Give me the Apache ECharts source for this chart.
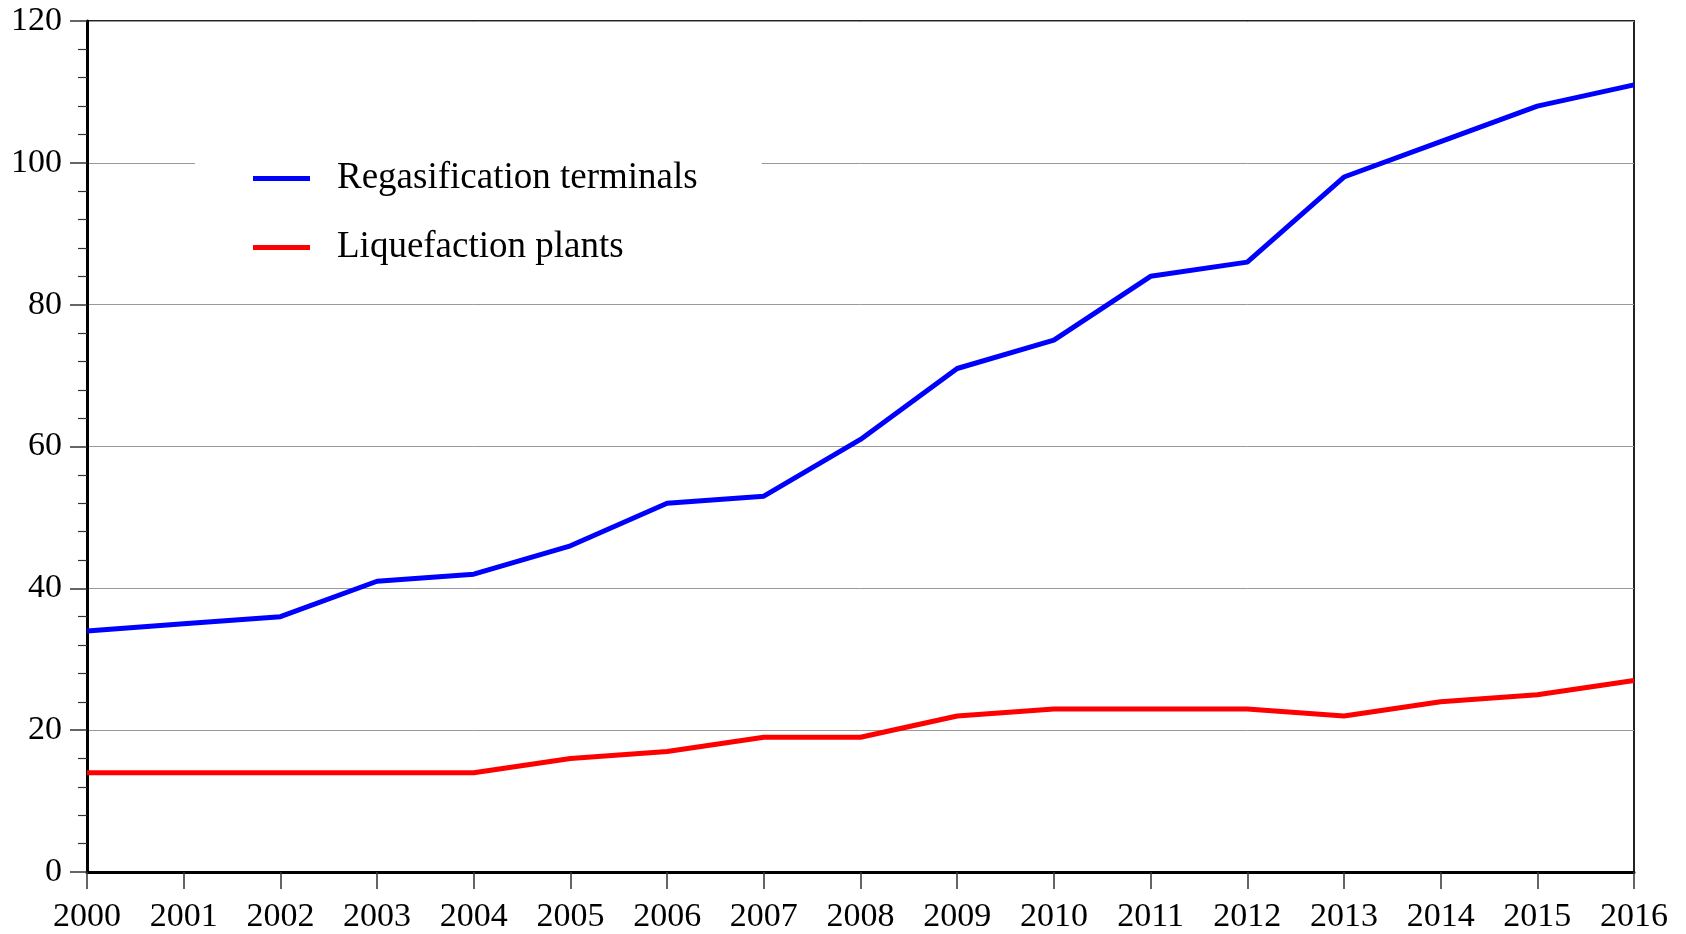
<!DOCTYPE html>
<html>
<head>
<meta charset="utf-8">
<script src="https://cdn.jsdelivr.net/npm/echarts@6/dist/echarts.min.js"></script>
<style>
  html, body { margin: 0; padding: 0; background: #fff; }
  #chart { width: 1686px; height: 934px; }
</style>
</head>
<body>
<div id="chart"></div>
<script>
// years on the x axis
var years = ['2000', '2001', '2002', '2003', '2004', '2005', '2006', '2007', '2008',
             '2009', '2010', '2011', '2012', '2013', '2014', '2015', '2016'];

// number of facilities
var regasification = [34, 35, 36, 41, 42, 46, 52, 53, 61, 71, 75, 84, 86, 98, 103, 108, 111];
var liquefaction = [14, 14, 14, 14, 14, 16, 17, 19, 19, 22, 23, 23, 23, 22, 24, 25, 27];

var seriesNames = ['Regasification terminals', 'Liquefaction plants'];

var font = '"Liberation Serif", "DejaVu Serif", serif';

var chart = echarts.init(document.getElementById('chart'));

var option = {
    backgroundColor: '#fff',
    animation: false,
    grid: {
        left: 87,
        right: 52,
        top: 21,
        bottom: 59,
        show: true,
        borderColor: '#222',
        borderWidth: 2
    },
    legend: {
        orient: 'vertical',
        left: 195,
        top: 140,
        backgroundColor: '#fff',
        padding: [20, 64, 20, 58],
        itemGap: 32,
        itemWidth: 57,
        itemHeight: 5,
        icon: 'rect',
        data: seriesNames,
        textStyle: {
            fontFamily: font,
            fontSize: 37,
            color: '#000',
            padding: [0, 0, 0, 22]
        }
    },
    xAxis: {
        type: 'category',
        data: years,
        boundaryGap: false,
        axisLine: { lineStyle: { color: '#000', width: 3 } },
        axisTick: { length: 17, lineStyle: { color: '#333', width: 1.5 } },
        axisLabel: {
            margin: 28,
            fontFamily: font,
            fontSize: 34,
            color: '#000'
        },
        splitLine: { show: false }
    },
    yAxis: {
        type: 'value',
        min: 0,
        max: 120,
        interval: 20,
        axisLine: { show: true, lineStyle: { color: '#000', width: 3 } },
        axisTick: { show: true, length: 17, lineStyle: { color: '#333', width: 1.5 } },
        minorTick: { show: true, splitNumber: 5, length: 9, lineStyle: { color: '#333', width: 1.2 } },
        axisLabel: {
            margin: 25,
            fontFamily: font,
            fontSize: 34,
            color: '#000'
        },
        splitLine: { show: true, lineStyle: { color: '#999', width: 1 } }
    },
    series: [
        {
            name: seriesNames[0],
            type: 'line',
            data: regasification,
            symbol: 'none',
            color: '#0000ff',
            lineStyle: { color: '#0000ff', width: 5 }
        },
        {
            name: seriesNames[1],
            type: 'line',
            data: liquefaction,
            symbol: 'none',
            color: '#ff0000',
            lineStyle: { color: '#ff0000', width: 5 }
        }
    ]
};

chart.setOption(option);
</script>
</body>
</html>
